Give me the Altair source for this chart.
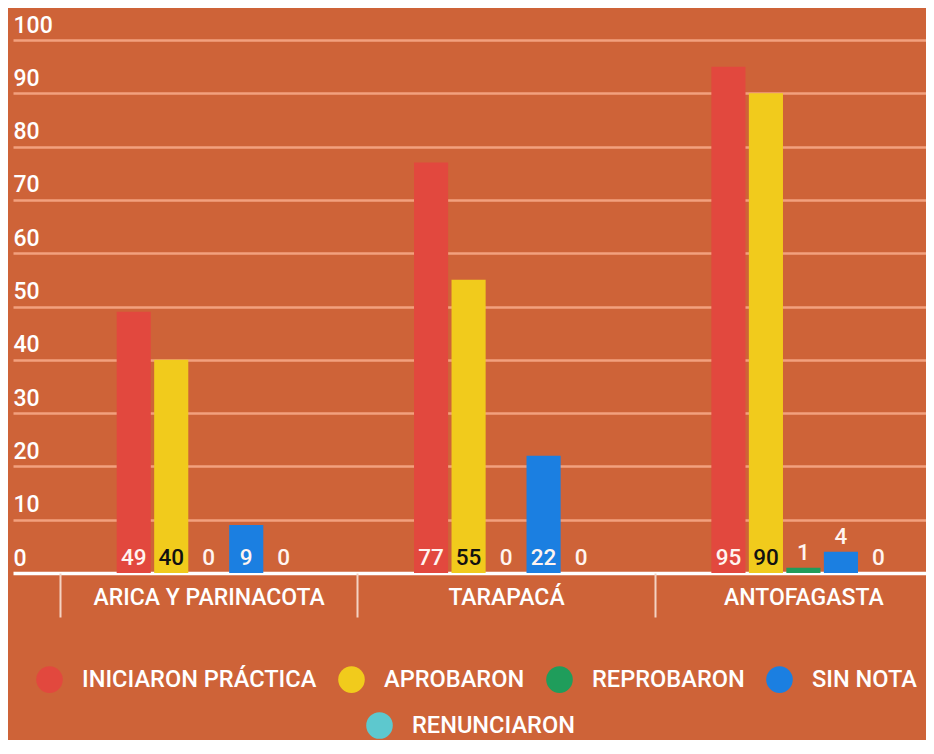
import altair as alt
import pandas as pd

regions = ["ARICA Y PARINACOTA", "TARAPACÁ", "ANTOFAGASTA"]
series = ["INICIARON PRÁCTICA", "APROBARON", "REPROBARON", "SIN NOTA", "RENUNCIARON"]
iniciaron = [49, 77, 95]
aprobaron = [40, 55, 90]
reprobaron = [0, 0, 1]
sin_nota = [9, 22, 4]
renunciaron = [0, 0, 0]
colors = ["#E2483E", "#F1CB1C", "#1F9D5B", "#1B7FE1", "#5DC8CE"]
y_ticks = list(range(0, 101, 10))

BG = "#CE6338"
GRID = "#F2A07E"
FONT = "Roboto"
WEIGHT = 500

rows = []
for i, r in enumerate(regions):
    for s, vals in zip(series, [iniciaron, aprobaron, reprobaron, sin_nota, renunciaron]):
        v = vals[i]
        rows.append({
            "region": r,
            "series": s,
            "series2": s,
            "value": v,
            "label_pos": v if 0 < v < 6 else 0,
        })
df = pd.DataFrame(rows)

x_enc = alt.X(
    "region:N",
    sort=regions,
    scale=alt.Scale(range=[0, 986], paddingInner=0, paddingOuter=0.158),
    axis=alt.Axis(
        title=None, domain=False, tickBand="extent", tickSize=44, tickWidth=2,
        tickColor="#F4D2C2", labelColor="#FFFFFF", labelFontSize=23, labelFont=FONT,
        labelFontWeight=WEIGHT, labelLimit=0,
        labelPadding=-20, labelBaseline="middle", labelAngle=0,
    ),
)
xoff_enc = alt.XOffset(
    "series:N", sort=series,
    scale=alt.Scale(domain=series, range=[55, 242.5], paddingInner=0.09, paddingOuter=0.045),
)
y_axis = alt.Axis(
    title=None, values=y_ticks, domain=False, ticks=False, tickSize=0,
    labelAlign="left", labelPadding=0, labelBaseline="alphabetic", labelOffset=-8,
    labelColor="#FFFFFF", labelFontSize=23, labelFont=FONT, labelFontWeight=WEIGHT,
    gridColor={"condition": {"test": "datum.value === 0", "value": "#FFFFFF"}, "value": GRID},
    gridWidth={"condition": {"test": "datum.value === 0", "value": 3.5}, "value": 2.5},
)
y_enc = alt.Y("value:Q", scale=alt.Scale(domain=[0, 100], nice=False), axis=y_axis)

legend_common = dict(
    title=None, orient="none", direction="horizontal",
    symbolType="circle", symbolSize=707, symbolStrokeWidth=0,
    labelFontSize=23.6, labelFont=FONT, labelFontWeight=WEIGHT, labelColor="#FFFFFF",
    labelOffset=19, labelLimit=0,
)

base = alt.Chart(df)

bars_main = base.transform_filter(
    alt.datum.series != "RENUNCIARON"
).mark_bar().encode(
    x=x_enc,
    xOffset=xoff_enc,
    y=y_enc,
    color=alt.Color(
        "series:N", sort=series[:4],
        scale=alt.Scale(domain=series[:4], range=colors[:4]),
        legend=alt.Legend(legendX=23, legendY=626, columnPadding=21, **legend_common),
    ),
)

bars_ren = base.transform_filter(
    alt.datum.series == "RENUNCIARON"
).mark_bar().encode(
    x=x_enc,
    xOffset=xoff_enc,
    y=y_enc,
    fill=alt.Fill(
        "series2:N",
        scale=alt.Scale(domain=series[4:], range=colors[4:]),
        legend=alt.Legend(legendX=353, legendY=672, **legend_common),
    ),
)

labels = base.mark_text(
    align="center", baseline="alphabetic", dy=-8, fontSize=22.5, font=FONT, fontWeight=WEIGHT,
).encode(
    x=x_enc,
    xOffset=xoff_enc,
    y=alt.Y("label_pos:Q"),
    text=alt.Text("value:Q"),
    color=alt.condition(alt.datum.series == "APROBARON", alt.value("#111111"), alt.value("#FFF4F0")),
)

chart = alt.layer(bars_main, bars_ren, labels).properties(
    width=912,
    height=533,
    autosize=alt.AutoSizeParams(type="none"),
    padding={"left": 5, "top": 32, "right": 1, "bottom": 167},
).configure(
    background=BG,
).configure_view(
    strokeWidth=0,
)

chart.save("out.html", embed_options={"renderer": "svg", "actions": False})
